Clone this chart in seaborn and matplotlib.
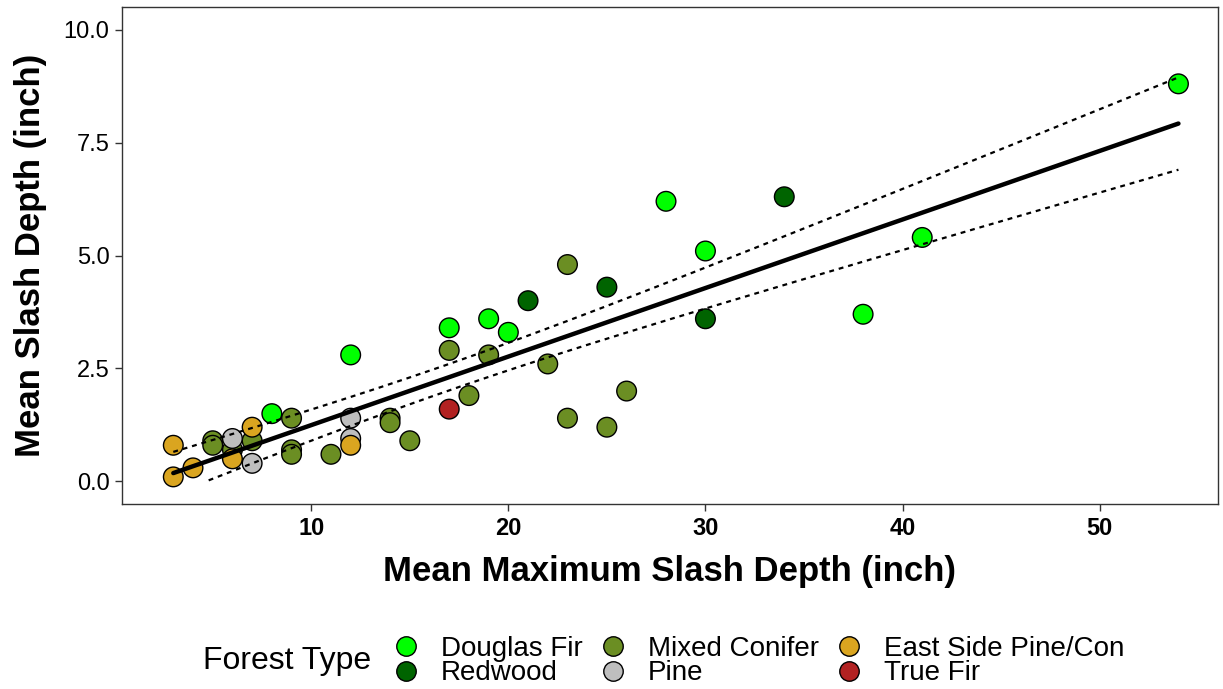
import numpy as np
import pandas as pd
import matplotlib
matplotlib.use("Agg")
import matplotlib.pyplot as plt
import seaborn as sns
from matplotlib.lines import Line2D

# ---------------- data ----------------
categories = ["Douglas Fir", "Redwood", "Mixed Conifer", "Pine",
              "East Side Pine/Con", "True Fir"]
palette = ["#00FF00", "#006400", "#6B8E23", "#BEBEBE", "#DAA520", "#B22222"]

douglas_x = [8, 12, 17, 19, 20, 28, 30, 38, 41, 54]
douglas_y = [1.5, 2.8, 3.4, 3.6, 3.3, 6.2, 5.1, 3.7, 5.4, 8.8]
redwood_x = [21, 25, 30, 34]
redwood_y = [4.0, 4.3, 3.6, 6.3]
mixed_x = [5, 5, 6, 7, 9, 9, 9, 11, 14, 14, 15, 17, 18, 19, 22, 23, 23, 25, 26]
mixed_y = [0.9, 0.8, 0.7, 0.9, 1.4, 0.7, 0.6, 0.6, 1.4, 1.3, 0.9, 2.9, 1.9, 2.8, 2.6, 1.4, 4.8, 1.2, 2.0]
pine_x = [6, 7, 12, 12]
pine_y = [0.95, 0.4, 1.4, 0.95]
eastside_x = [3, 3, 4, 6, 7, 12]
eastside_y = [0.8, 0.1, 0.3, 0.5, 1.2, 0.8]
truefir_x = [17]
truefir_y = [1.6]

xs = [douglas_x, redwood_x, mixed_x, pine_x, eastside_x, truefir_x]
ys = [douglas_y, redwood_y, mixed_y, pine_y, eastside_y, truefir_y]
df = pd.concat([pd.DataFrame({"x": x, "y": y, "type": c})
                for x, y, c in zip(xs, ys, categories)], ignore_index=True)

x_ticks = [10, 20, 30, 40, 50]
y_ticks = [0.0, 2.5, 5.0, 7.5, 10.0]

# ---------------- figure ----------------
sns.set_theme(style="white")
plt.rcParams["font.family"] = ["Liberation Sans", "DejaVu Sans"]
plt.rcParams["text.color"] = "black"
plt.rcParams["axes.labelcolor"] = "black"

fig = plt.figure(figsize=(12.23, 6.89), dpi=100)
ax = fig.add_axes([0.0998, 0.2685, 0.896, 0.7213])

sns.scatterplot(data=df, x="x", y="y", hue="type", hue_order=categories,
                palette=palette, s=200, edgecolor="black", linewidth=1.0,
                legend=False, ax=ax, zorder=2)

# OLS fit line
sns.regplot(data=df, x="x", y="y", scatter=False, ci=None, truncate=True,
            line_kws=dict(color="black", lw=3.2, zorder=3), ax=ax)

# 95% confidence band of the fit (dashed)
xv = df["x"].to_numpy(float)
yv = df["y"].to_numpy(float)
n = len(xv)
b, a = np.polyfit(xv, yv, 1)
resid = yv - (a + b * xv)
s = np.sqrt(np.sum(resid ** 2) / (n - 2))
sxx = np.sum((xv - xv.mean()) ** 2)
grid = np.linspace(xv.min(), xv.max(), 200)
fit = a + b * grid
se = s * np.sqrt(1.0 / n + (grid - xv.mean()) ** 2 / sxx)
tq = 2.02
upper = fit + tq * se
lower = fit - tq * se
lower = np.where(lower < 0, np.nan, lower)
upper = np.where(upper < 0, np.nan, upper)
for band in (upper, lower):
    ax.plot(grid, band, color="black", lw=1.6, ls=(0, (2.2, 2.2)), zorder=3)

ax.set_xlim(0.4, 56.0)
ax.set_ylim(-0.5, 10.5)
ax.set_xticks(x_ticks)
ax.set_xticklabels([str(t) for t in x_ticks], fontsize=17, fontweight="bold", color="black")
ax.set_yticks(y_ticks)
ax.set_yticklabels([f"{t:.1f}" for t in y_ticks], fontsize=17, color="black")
ax.tick_params(axis="both", direction="out", length=5, width=1, color="#333333",
               pad=4, bottom=True, left=True)
for sp in ax.spines.values():
    sp.set_color("#333333")
    sp.set_linewidth(1.0)
ax.grid(False)

ax.set_xlabel("Mean Maximum Slash Depth (inch)", fontsize=25, fontweight="bold",
              labelpad=11, color="black")
ax.set_ylabel("Mean Slash Depth (inch)", fontsize=25, fontweight="bold",
              labelpad=12, color="black")

# legend
handles = [Line2D([0], [0], marker="o", ls="none", markersize=14,
                  markerfacecolor=c, markeredgecolor="black", markeredgewidth=1.0)
           for c in palette]
fig.text(203 / 1223, 1 - 661 / 689, "Forest Type", fontsize=23, va="center", ha="left")
leg = fig.legend(handles, categories, ncol=3, loc="center left",
                 bbox_to_anchor=(392 / 1223, 1 - 661 / 689), frameon=False,
                 fontsize=20, handlelength=1.0, handletextpad=0.75,
                 columnspacing=0.6, labelspacing=-0.05, borderaxespad=0,
                 borderpad=0)

fig.savefig("out.png", dpi=100)
